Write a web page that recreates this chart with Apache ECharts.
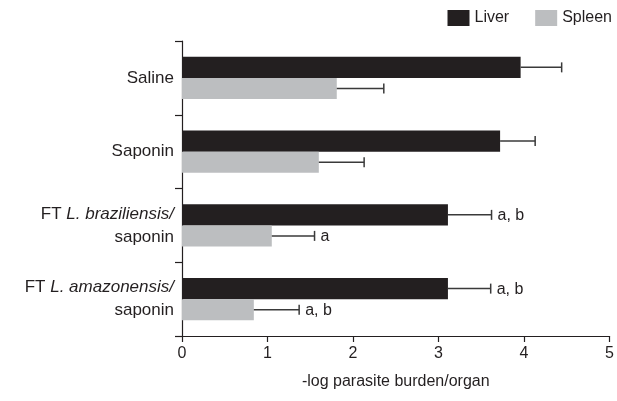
<!DOCTYPE html>
<html>
<head>
<meta charset="utf-8">
<script src="https://cdn.jsdelivr.net/npm/echarts@6/dist/echarts.min.js"></script>
<style>
html,body{margin:0;padding:0;background:#fff;}
#chart{width:617px;height:401px;}
</style>
</head>
<body>
<div id="chart"></div>
<script>
var categories = ['Saline', 'Saponin', 'FT L. braziliensis/ saponin', 'FT L. amazonensis/ saponin'];
var categoryLabels = ['Saline', 'Saponin', 'FT {i|L. braziliensis/}\nsaponin', 'FT {i|L. amazonensis/}\nsaponin'];
var liver = [3.96, 3.72, 3.11, 3.11];
var liverErr = [0.48, 0.41, 0.51, 0.50];
var spleen = [1.81, 1.60, 1.05, 0.84];
var spleenErr = [0.55, 0.53, 0.50, 0.53];
var liverSig = ['', '', 'a, b', 'a, b'];
var spleenSig = ['', '', 'a', 'a, b'];
var xTicks = [0, 1, 2, 3, 4, 5];

var FONT = 'Liberation Sans, Arial, Helvetica, sans-serif';
var LIVER_COLOR = '#231f20';
var SPLEEN_COLOR = '#bcbec0';

function errData(vals, errs) {
  return vals.map(function (v, i) { return [v, i, v + errs[i]]; });
}

function makeErrRender(side, sigs) {
  return function (params, api) {
    var idx = api.value(1);
    var start = api.coord([api.value(0), idx]);
    var end = api.coord([api.value(2), idx]);
    var band = api.size([0, 1])[1];
    var bw = band * 0.285;
    var y = start[1] + side * bw / 2;
    var capH = 10;
    var txt = sigs[params.dataIndex];
    var children = [
      { type: 'line', shape: { x1: start[0], y1: y, x2: end[0], y2: y },
        style: { stroke: '#3a3a3a', lineWidth: 1.5 } },
      { type: 'line', shape: { x1: end[0], y1: y - capH / 2, x2: end[0], y2: y + capH / 2 },
        style: { stroke: '#3a3a3a', lineWidth: 1.5 } }
    ];
    if (txt) {
      children.push({ type: 'text', style: { text: txt, x: end[0] + 6, y: y + 1,
        verticalAlign: 'middle', fill: '#231f20',
        font: '16px ' + FONT } });
    }
    return { type: 'group', children: children };
  };
}

var chart = echarts.init(document.getElementById('chart'));
chart.setOption({
  animation: false,
  backgroundColor: '#fff',
  textStyle: { fontFamily: FONT },
  legend: {
    right: 0, top: 5, orient: 'horizontal',
    itemWidth: 22, itemHeight: 16, itemGap: 26,
    icon: 'rect',
    textStyle: { fontSize: 16, color: '#231f20', fontFamily: FONT },
    data: ['Liver', 'Spleen']
  },
  grid: { left: 182, right: 6, top: 41, bottom: 65, containLabel: false },
  xAxis: {
    type: 'value', min: xTicks[0], max: xTicks[xTicks.length - 1], interval: 1,
    name: '-log parasite burden/organ', nameLocation: 'middle', nameGap: 38,
    nameTextStyle: { fontSize: 16, color: '#231f20', fontFamily: FONT },
    axisLine: { show: true, lineStyle: { color: '#231f20', width: 1.2 } },
    axisTick: { show: true, length: 6, lineStyle: { color: '#231f20', width: 1.2 } },
    axisLabel: { fontSize: 16, color: '#231f20', margin: 10, fontFamily: FONT },
    splitLine: { show: false }
  },
  yAxis: {
    type: 'category', inverse: true, data: categories,
    axisLine: { show: true, lineStyle: { color: '#231f20', width: 1.2 } },
    axisTick: { show: true, length: 7, lineStyle: { color: '#231f20', width: 1.2 } },
    axisLabel: {
      fontSize: 17, color: '#231f20', margin: 8, lineHeight: 23, align: 'right', fontFamily: FONT,
      formatter: function (v, i) { return categoryLabels[i]; },
      rich: { i: { fontStyle: 'italic', fontSize: 17, color: '#231f20', lineHeight: 23, fontFamily: FONT } }
    }
  },
  series: [
    { name: 'Liver', type: 'bar', data: liver, barWidth: '28.5%', barGap: '0%',
      itemStyle: { color: LIVER_COLOR }, z: 2 },
    { name: 'Spleen', type: 'bar', data: spleen, barWidth: '28.5%', barGap: '0%',
      itemStyle: { color: SPLEEN_COLOR }, z: 2 },
    { type: 'custom', renderItem: makeErrRender(-1, liverSig), data: errData(liver, liverErr),
      encode: { x: [0, 2], y: 1 }, z: 3, silent: true },
    { type: 'custom', renderItem: makeErrRender(1, spleenSig), data: errData(spleen, spleenErr),
      encode: { x: [0, 2], y: 1 }, z: 3, silent: true }
  ]
});
</script>
</body>
</html>
